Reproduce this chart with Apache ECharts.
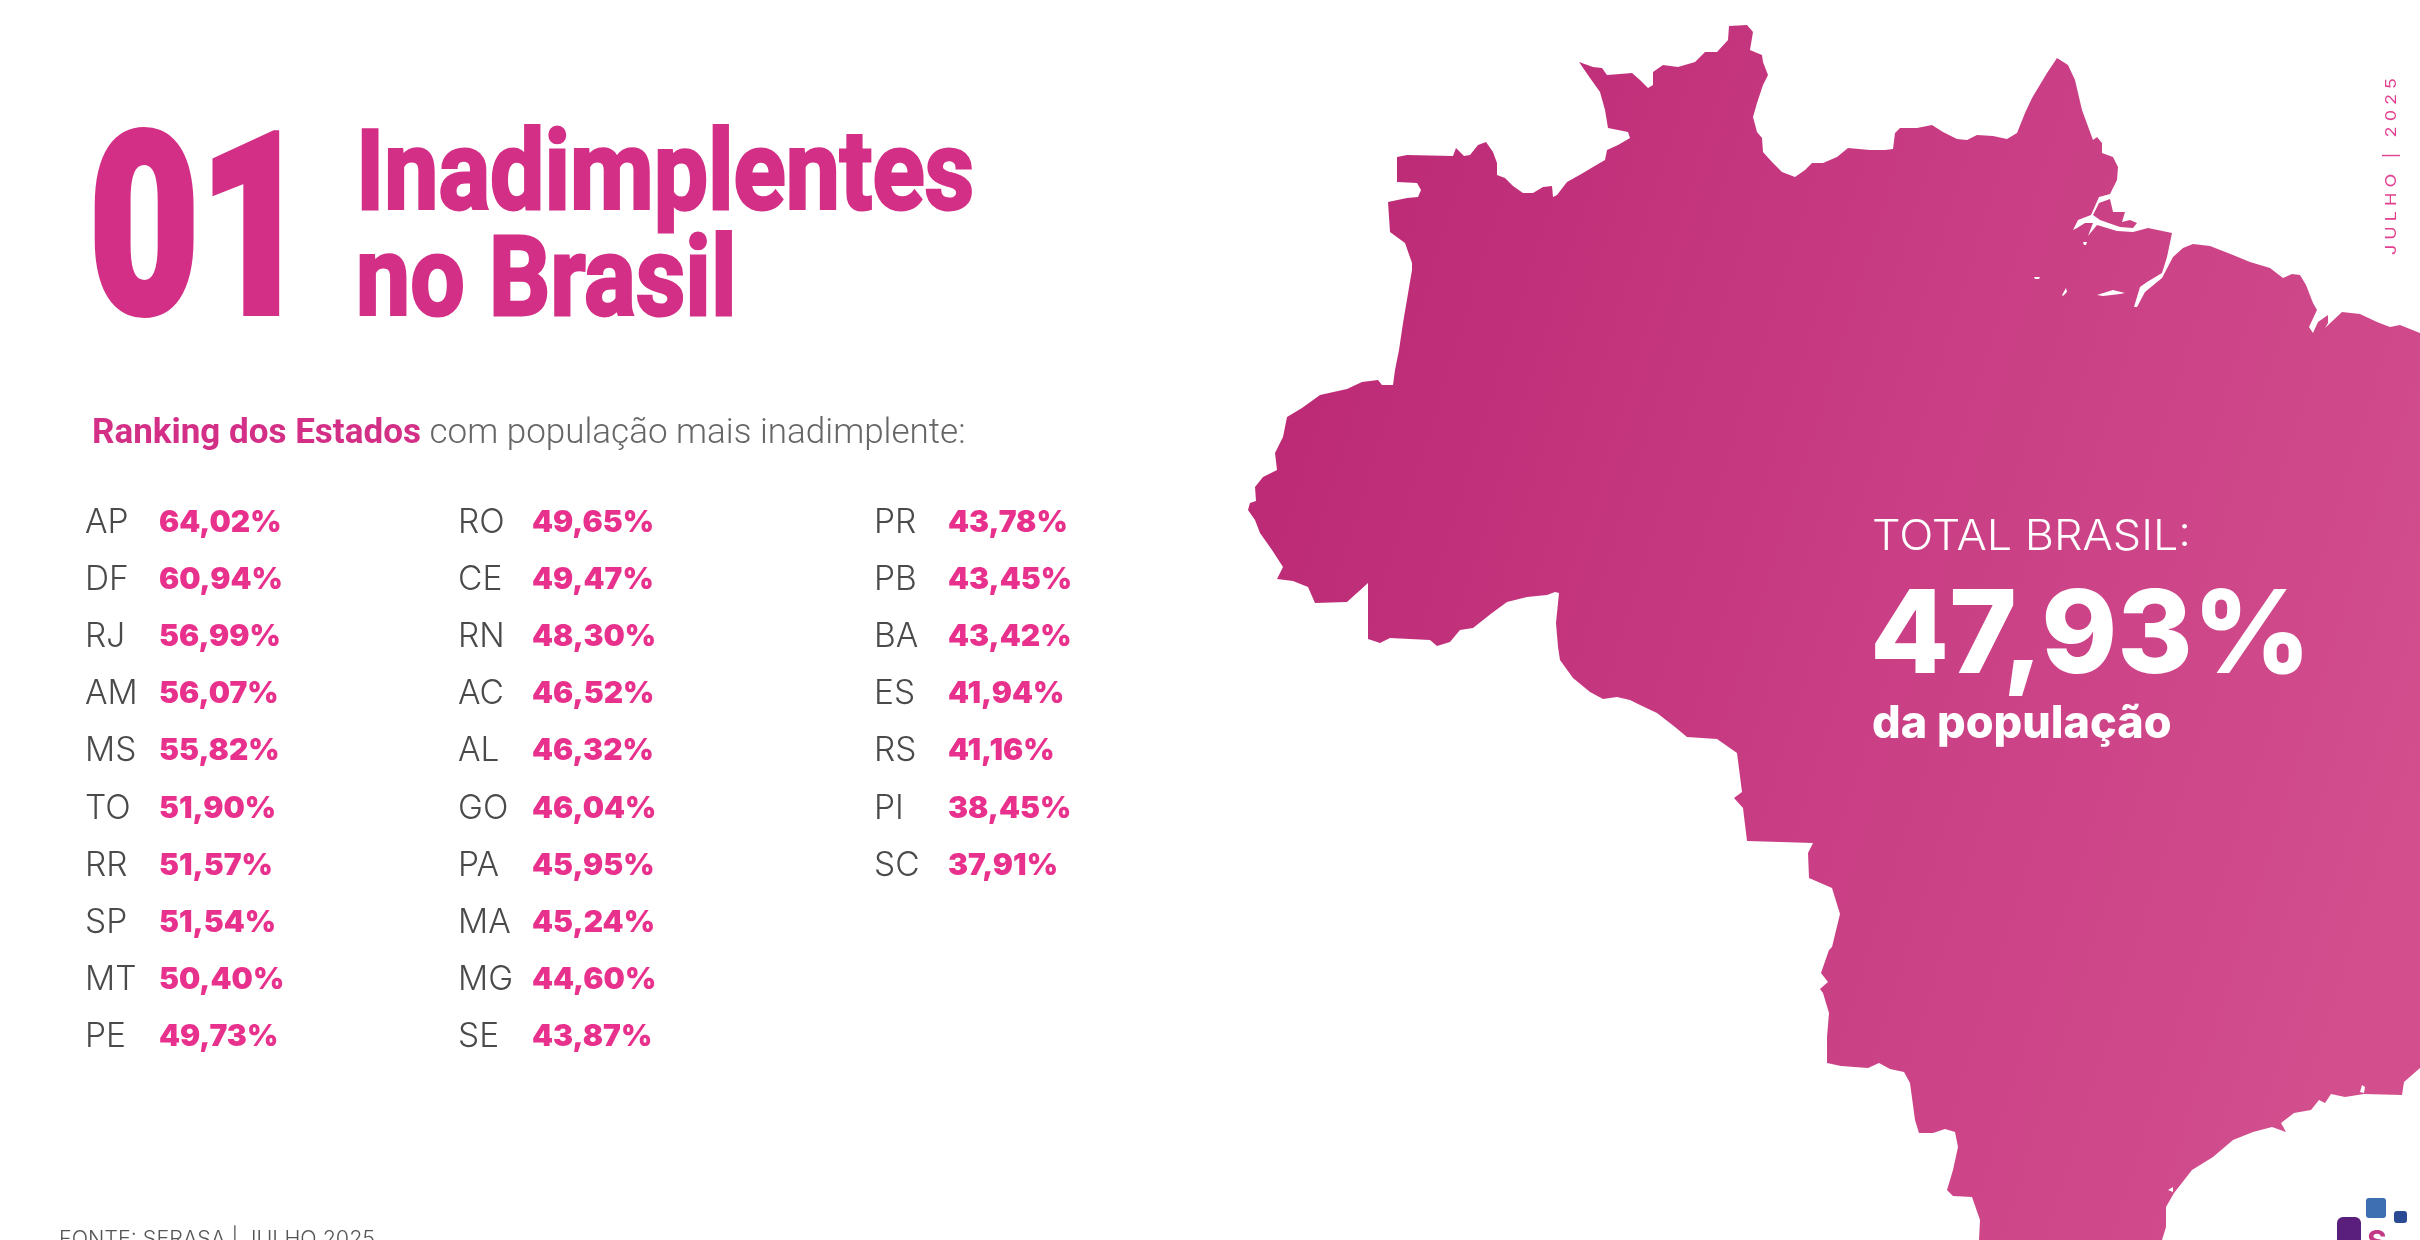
<!DOCTYPE html>
<html><head><meta charset="utf-8">
<style>html,body{margin:0;padding:0;background:#fff}#c{width:2420px;height:1240px}</style>
<script src="https://cdn.jsdelivr.net/npm/echarts@6/dist/echarts.min.js"></script>
</head><body><div id="c"></div>
<script>
const statesA = ['AP','DF','RJ','AM','MS','TO','RR','SP','MT','PE'];
const valuesA = [64.02,60.94,56.99,56.07,55.82,51.90,51.57,51.54,50.40,49.73];
const statesB = ['RO','CE','RN','AC','AL','GO','PA','MA','MG','SE'];
const valuesB = [49.65,49.47,48.30,46.52,46.32,46.04,45.95,45.24,44.60,43.87];
const statesC = ['PR','PB','BA','ES','RS','PI','SC'];
const valuesC = [43.78,43.45,43.42,41.94,41.16,38.45,37.91];
const totalBrasil = 47.93;

// Silhouette of Brazil as seen in the picture, in trace units
const brasilOutline = [[1397,157],[1407,155],[1453,156],[1456,148],[1464,156],[1470,155],[1478,145],[1486,142],[1493,152],[1497,163],[1497,175],[1505,178],[1513,186],[1523,193],[1533,193],[1543,187],[1552,186],[1553,197],[1557,195],[1567,182],[1583,173],[1593,167],[1605,160],[1607,150],[1618,145],[1630,138],[1628,132],[1608,128],[1605,110],[1600,92],[1590,78],[1579,62],[1593,67],[1602,68],[1607,75],[1620,74],[1632,73],[1640,80],[1648,88],[1653,85],[1653,72],[1663,65],[1678,67],[1695,62],[1705,52],[1717,52],[1728,40],[1729,26],[1747,25],[1753,32],[1750,50],[1762,55],[1763,62],[1768,75],[1763,85],[1757,103],[1753,117],[1757,132],[1762,138],[1763,152],[1772,162],[1782,172],[1795,177],[1805,170],[1812,163],[1823,163],[1837,157],[1848,148],[1870,150],[1885,150],[1893,149],[1895,133],[1900,128],[1917,128],[1932,125],[1943,132],[1957,139],[1967,140],[1977,135],[1993,136],[2007,139],[2017,133],[2025,113],[2032,98],[2047,73],[2057,58],[2068,65],[2075,80],[2082,110],[2093,140],[2097,137],[2102,143],[2102,153],[2113,157],[2118,167],[2117,180],[2110,194],[2099,197],[2091,215],[2078,220],[2073,230],[2077,228],[2085,223],[2093,223],[2088,236],[2097,225],[2117,231],[2133,232],[2148,228],[2172,233],[2167,257],[2162,273],[2147,282],[2140,287],[2134,307],[2137,307],[2145,292],[2162,278],[2173,257],[2183,248],[2193,244],[2210,246],[2233,255],[2250,262],[2270,268],[2283,278],[2292,274],[2300,275],[2306,285],[2313,303],[2317,310],[2309,327],[2313,333],[2318,322],[2328,315],[2328,323],[2325,328],[2342,312],[2360,314],[2377,322],[2390,327],[2400,325],[2420,333],[2460,345],[2460,1040],[2420,1068],[2404,1082],[2402,1095],[2364,1094],[2345,1097],[2331,1094],[2325,1103],[2319,1100],[2311,1110],[2294,1113],[2281,1123],[2286,1132],[2272,1127],[2253,1132],[2233,1140],[2213,1157],[2192,1170],[2174,1193],[2166,1207],[2166,1227],[2162,1240],[2150,1270],[1980,1270],[1979,1240],[1980,1220],[1972,1197],[1953,1196],[1947,1190],[1953,1170],[1958,1147],[1955,1132],[1945,1129],[1933,1133],[1919,1133],[1915,1120],[1910,1083],[1904,1072],[1890,1069],[1879,1063],[1868,1068],[1841,1066],[1827,1063],[1827,1037],[1829,1013],[1823,993],[1820,989],[1828,982],[1821,973],[1829,950],[1832,947],[1840,914],[1832,888],[1809,878],[1808,853],[1813,843],[1747,841],[1743,808],[1734,798],[1742,792],[1737,753],[1717,739],[1687,737],[1675,727],[1657,713],[1640,705],[1630,700],[1617,697],[1603,699],[1590,692],[1573,678],[1560,660],[1558,647],[1556,623],[1559,593],[1555,592],[1547,595],[1527,597],[1507,602],[1492,613],[1473,628],[1460,630],[1450,642],[1437,646],[1430,640],[1390,638],[1380,643],[1368,639],[1368,583],[1347,602],[1315,603],[1308,587],[1293,581],[1277,579],[1283,567],[1272,550],[1260,533],[1255,520],[1248,510],[1250,503],[1256,501],[1255,487],[1263,477],[1277,470],[1275,453],[1283,437],[1287,417],[1302,408],[1320,395],[1347,389],[1362,382],[1378,380],[1382,385],[1393,385],[1395,370],[1399,350],[1403,323],[1412,270],[1412,263],[1405,243],[1390,232],[1388,202],[1407,198],[1418,197],[1421,190],[1417,183],[1397,182],[1397,157]];
const marajoOutline = [[2099,203],[2110,199],[2113,212],[2125,212],[2122,222],[2130,220],[2137,223],[2133,228],[2120,227],[2100,220],[2093,215],[2099,203]];
const riverSpecks = [
  [[2035,279],[2039,279],[2040,277],[2034,277],[2035,279]],
  [[2063,296],[2067,292],[2066,288],[2062,295],[2063,296]],
  [[2103,296],[2120,294],[2125,293],[2113,290],[2097,295],[2103,296]],
  [[2084,245],[2086,245],[2087,242],[2083,242],[2084,245]],
  [[2364,1093],[2365,1087],[2362,1085],[2360,1092],[2364,1093]],
  [[2168,1190],[2173,1192],[2173,1187],[2168,1190]]
];
const flip = r => r.map(p => [p[0], -p[1]]);

echarts.registerMap('brasil', {type:'FeatureCollection', features:[{
  type:'Feature', properties:{name:'Brasil'},
  geometry:{type:'MultiPolygon', coordinates:[
    [flip(brasilOutline)].concat(riverSpecks.map(flip)),
    [flip(marajoOutline)]
  ]}
}]});

const chart = echarts.init(document.getElementById('c'), null, {renderer:'canvas'});
const fmt = v => v.toFixed(2).replace('.', ',') + '%';
const ROW = 57.1, FIRST = 523;
const FONT = 'Inter';
const columns = [
  {left:159, stateX:85, states:statesA, values:valuesA},
  {left:532, stateX:458, states:statesB, values:valuesB},
  {left:948, stateX:874, states:statesC, values:valuesC}
];
const grids = columns.map(c => ({left:c.left, top:FIRST-ROW/2, width:200, height:ROW*c.states.length, containLabel:false}));
const xAxes = columns.map((c,i) => ({type:'value', gridIndex:i, min:0, max:100, show:false}));
const yAxes = columns.map((c,i) => ({type:'category', gridIndex:i, inverse:true, data:c.states,
  axisLine:{show:false}, axisTick:{show:false}, splitLine:{show:false},
  axisLabel:{show:true, align:'left', margin:c.left-c.stateX, color:'#4a4a4a', fontFamily:FONT, fontWeight:300, fontSize:33.5}}));
const series = columns.map((c,i) => ({type:'bar', xAxisIndex:i, yAxisIndex:i, data:c.values, barWidth:30, silent:true,
  itemStyle:{color:'rgba(0,0,0,0)'},
  label:{show:true, position:'insideLeft', distance:0, formatter:p=>fmt(p.value), color:'#e8318c', fontFamily:FONT, fontWeight:900, fontSize:30}}));

const PINK = '#d42f86';
const T = (x,y,text,style,extra) => Object.assign({type:'text', x, y, z:100, silent:true,
  style:Object.assign({text, textVerticalAlign:'bottom'}, style)}, extra||{});
const R = (x,y,w,h,r,fill) => ({type:'rect', z:100, silent:true, shape:{x,y,width:w,height:h,r}, style:{fill}});
const thick = w => ({stroke:PINK, lineWidth:w});

chart.setOption({
  animation:false,
  backgroundColor:'#fff',
  geo:{map:'brasil', left:0, top:0, width:2420, height:1240, aspectScale:1, silent:true, roam:false,
    boundingCoords:[[0,0],[2420,-1240]],
    label:{show:false},
    itemStyle:{borderWidth:0, areaColor:new echarts.graphic.LinearGradient(0,0.2,1,0.5,[
      {offset:0,color:'#bb2874'},{offset:0.5,color:'#c83c83'},{offset:1,color:'#d24e8d'}])},
    emphasis:{disabled:true}, select:{disabled:true}},
  grid:grids, xAxis:xAxes, yAxis:yAxes, series,
  graphic:{elements:[
    T(89,376,'01',Object.assign({fill:PINK, font:'900 252px Roboto'},thick(6)),{scaleX:0.755}),
    T(356,237,'Inadimplentes',Object.assign({fill:PINK, font:'700 111px Roboto'},thick(3)),{scaleX:0.87}),
    T(356,343,'no Brasil',Object.assign({fill:PINK, font:'700 111px Roboto'},thick(3)),{scaleX:0.87}),
    T(92,452,'{a|Ranking dos Estados }{b|com população mais inadimplente:}',{rich:{
      a:{fill:PINK,color:PINK,font:'700 35px Roboto'},
      b:{fill:'#666',color:'#666',font:'300 35px Roboto'}}}),
    T(1872,558,'TOTAL BRASIL:',{fill:'#fff', font:'300 42px Inter'},{scaleX:1.07}),
    T(1870,696,fmt(totalBrasil),{fill:'#fff', font:'800 115px Inter'}),
    T(1872,747,'da população',{fill:'#fff', font:'800 45px Inter'}),
    T(59,1251,'FONTE: SERASA | JULHO 2025',{fill:'#555', font:'300 21.5px Inter'}),
    T(2384,255,'J U L H O   |   2 0 2 5',{fill:'#e0408f', font:'400 15px Inter', textVerticalAlign:'top'},{rotation:Math.PI/2, scaleX:1.2}),
    R(2337,1217,24,30,6,'#5a1f7c'),
    R(2366,1198,20,20,3,'#3f6fb3'),
    R(2394,1211,13,12,3,'#2a4a94'),
    T(2367,1258,'S',{fill:'#c23a85', font:'700 30px Inter'})
  ]}
});
</script></body></html>
